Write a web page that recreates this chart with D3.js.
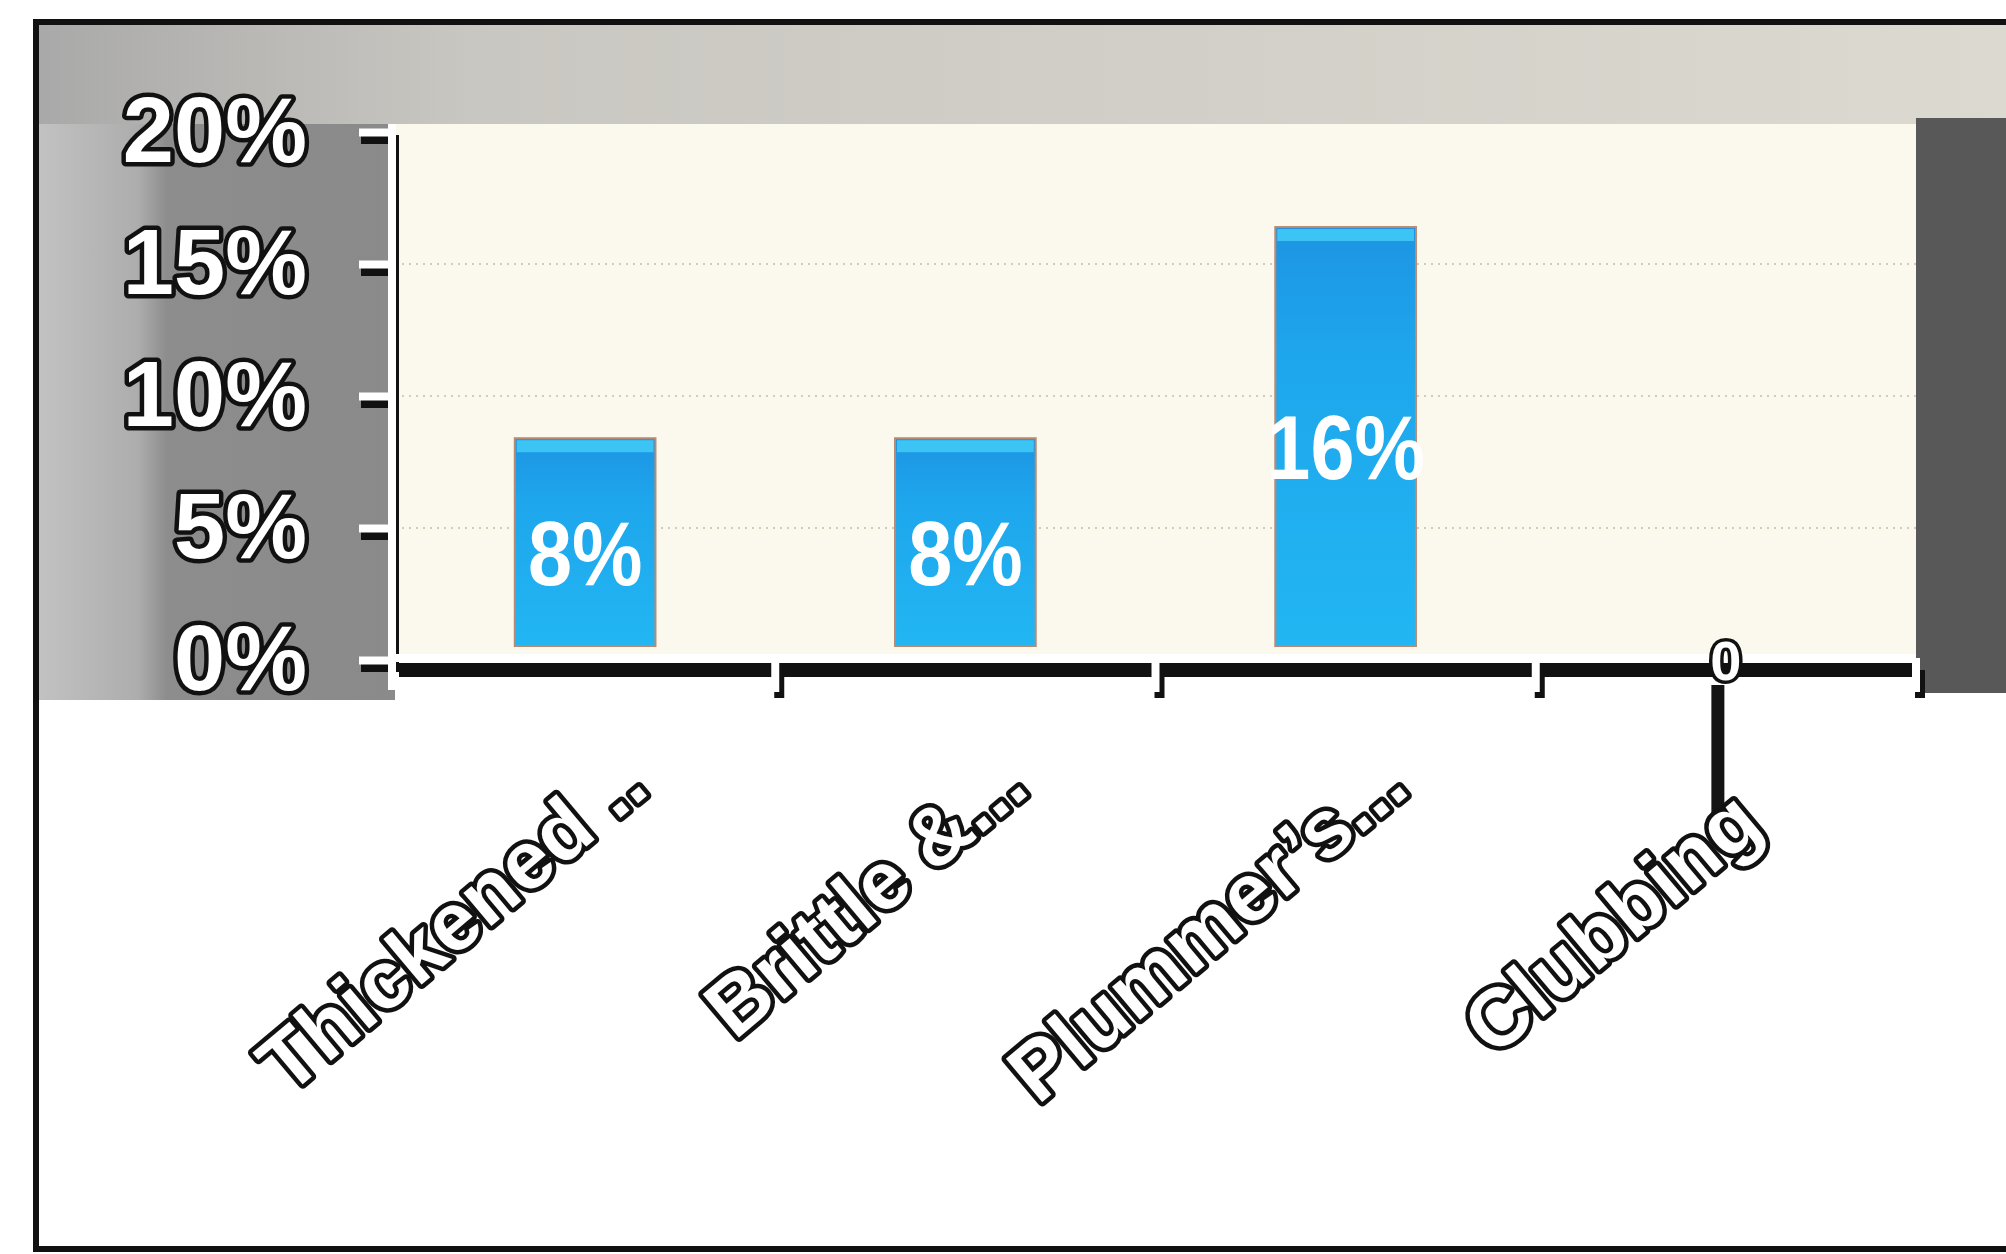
<!DOCTYPE html>
<html lang="en">
<head>
<meta charset="UTF-8">
<title>Nail findings</title>
<style>
  body { margin: 0; background: #fff; }
  svg text { font-family: "Liberation Sans", Arial, sans-serif; font-weight: bold; }
</style>
</head>
<body>
<script src="https://d3js.org/d3.v7.min.js"></script>
<script>
// data
var categories = ["Thickened ..", "Brittle &...", "Plummer\u2019s...", "Clubbing"];
var values = [0.084, 0.084, 0.164, 0];
var yTicks = [0, 0.05, 0.10, 0.15, 0.20];

var W = 2006, H = 1254;
var plot = {left: 395, right: 1916, top: 124, zero: 660, max: 132};

var svg = d3.select("body").append("svg")
  .attr("width", W)
  .attr("height", H);

var x = d3.scaleBand().domain(categories).range([plot.left, plot.right])
  .paddingInner(0.63).paddingOuter(0.315);
var y = d3.scaleLinear().domain([0, 0.2]).range([plot.zero, plot.max]);

var data = categories.map(function(c, i) { return {cat: c, v: values[i]}; });
var fmt = d3.format(".0%");

var defs = svg.append("defs");
var g1 = defs.append("linearGradient").attr("id", "barGrad").attr("x1", 0).attr("y1", 0).attr("x2", 0).attr("y2", 1);
g1.append("stop").attr("offset", "0%").attr("stop-color", "#1d94e3");
g1.append("stop").attr("offset", "30%").attr("stop-color", "#1ea6ec");
g1.append("stop").attr("offset", "100%").attr("stop-color", "#22b6f3");

var g2 = defs.append("linearGradient").attr("id", "topGrad");
g2.append("stop").attr("offset", "0%").attr("stop-color", "#a9a9a9");
g2.append("stop").attr("offset", "22%").attr("stop-color", "#c9c7c1");
g2.append("stop").attr("offset", "100%").attr("stop-color", "#dcd9d0");

var g3 = defs.append("linearGradient").attr("id", "leftGrad");
g3.append("stop").attr("offset", "0%").attr("stop-color", "#c2c2c2");
g3.append("stop").attr("offset", "28%").attr("stop-color", "#adadad");
g3.append("stop").attr("offset", "36%").attr("stop-color", "#8d8d8d");
g3.append("stop").attr("offset", "100%").attr("stop-color", "#8a8a8a");

// backdrop (photo of a slide)
svg.append("rect").attr("width", W).attr("height", H).attr("fill", "#fff");
svg.append("rect").attr("x", 38).attr("y", 24).attr("width", W - 38).attr("height", plot.top - 24)
  .attr("fill", "url(#topGrad)");
svg.append("rect").attr("x", 38).attr("y", plot.top).attr("width", plot.left - 38).attr("height", plot.zero + 40 - plot.top)
  .attr("fill", "url(#leftGrad)");
svg.append("rect").attr("x", plot.right).attr("y", 118).attr("width", W - plot.right).attr("height", 575)
  .attr("fill", "#585858");
svg.append("rect").attr("x", plot.left).attr("y", plot.top).attr("width", plot.right - plot.left).attr("height", plot.zero - plot.top)
  .attr("fill", "#fbf8ee");

// frame
svg.append("path")
  .attr("d", "M" + W + ",22 H36 V1249 H" + W)
  .attr("fill", "none").attr("stroke", "#111").attr("stroke-width", 6);

// faint gridlines
svg.selectAll(".grid")
  .data(yTicks.filter(function(d) { return d > 0 && d < 0.2; }))
  .enter().append("line")
  .attr("x1", plot.left).attr("x2", plot.right)
  .attr("y1", function(d) { return y(d); }).attr("y2", function(d) { return y(d); })
  .attr("stroke", "#d3ccb8").attr("stroke-width", 2).attr("stroke-dasharray", "2,5");

// bars
var lift = 14;
var bars = svg.selectAll(".bar")
  .data(data.filter(function(d) { return d.v > 0; }))
  .enter().append("g").attr("class", "bar");

bars.append("rect")
  .attr("x", function(d) { return x(d.cat); })
  .attr("y", function(d) { return y(d.v); })
  .attr("width", x.bandwidth())
  .attr("height", function(d) { return y(0) - y(d.v) - lift; })
  .attr("fill", "url(#barGrad)")
  .attr("stroke", "#b98a72").attr("stroke-width", 2);

bars.append("rect")
  .attr("x", function(d) { return x(d.cat) + 2; })
  .attr("y", function(d) { return y(d.v) + 2; })
  .attr("width", x.bandwidth() - 4)
  .attr("height", 12)
  .attr("fill", "#3cc4f5");

// data labels
bars.append("text")
  .attr("transform", function(d) {
    var cy = (y(d.v) + y(0) - lift) / 2 + 10;
    return "translate(" + (x(d.cat) + x.bandwidth() / 2) + "," + cy + ") scale(0.88,1)";
  })
  .attr("text-anchor", "middle")
  .attr("dy", "0.36em")
  .attr("font-size", 90)
  .attr("fill", "#fff")
  .text(function(d) { return fmt(d.v); });

// y axis (black shadow first, white on top)
function yAxis() {
  return d3.axisLeft(y).tickValues(yTicks).tickFormat(fmt).tickSize(33).tickPadding(52);
}
var ysh = svg.append("g").attr("transform", "translate(" + (plot.left - 1) + ",7)").call(yAxis());
ysh.selectAll("text").remove();
ysh.selectAll("path, line").attr("stroke", "#111").attr("stroke-width", 9);

// x axis shadow
var bounds = d3.range(0, categories.length + 1).map(function(i) { return x.range()[0] + i * x.step(); });
var xsh = svg.append("g").attr("transform", "translate(4,10)");
xsh.append("line").attr("x1", plot.left).attr("x2", plot.right)
  .attr("y1", y(0)).attr("y2", y(0)).attr("stroke", "#111").attr("stroke-width", 14);
xsh.selectAll(".t").data(bounds.slice(1)).enter().append("line")
  .attr("x1", function(d) { return d; }).attr("x2", function(d) { return d; })
  .attr("y1", y(0)).attr("y2", y(0) + 28)
  .attr("stroke", "#111").attr("stroke-width", 10);

var ya = svg.append("g").attr("transform", "translate(" + (plot.left - 3) + ",0)").call(yAxis());
ya.selectAll("path, line").attr("stroke", "#fff").attr("stroke-width", 8);
ya.select(".domain").attr("d", "M0," + (y(0.2) - 8) + "V" + (y(0) + 30));
ya.selectAll("text")
  .attr("font-size", 92)
  .attr("fill", "#fff")
  .attr("stroke", "#111").attr("stroke-width", 9)
  .attr("stroke-linejoin", "round")
  .style("paint-order", "stroke");

var xw = svg.append("g");
xw.append("line").attr("x1", plot.left).attr("x2", plot.right)
  .attr("y1", y(0) - 2).attr("y2", y(0) - 2).attr("stroke", "#fff").attr("stroke-width", 8);
xw.selectAll(".t").data(bounds.slice(1)).enter().append("line")
  .attr("x1", function(d) { return d; }).attr("x2", function(d) { return d; })
  .attr("y1", y(0) - 2).attr("y2", y(0) + 32)
  .attr("stroke", "#fff").attr("stroke-width", 8);

// zero-height bar: its label sits on the axis, with a dark smear below it
var zero = svg.selectAll(".zero")
  .data(data.filter(function(d) { return d.v === 0; }))
  .enter().append("g").attr("class", "zero");
zero.append("line")
  .attr("x1", function(d) { return x(d.cat) + x.bandwidth() / 2 - 8; })
  .attr("x2", function(d) { return x(d.cat) + x.bandwidth() / 2 - 8; })
  .attr("y1", y(0) + 25).attr("y2", y(0) + 160)
  .attr("stroke", "#141414").attr("stroke-width", 13);
zero.append("text")
  .attr("x", function(d) { return x(d.cat) + x.bandwidth() / 2; })
  .attr("y", y(0))
  .attr("dy", "0.36em")
  .attr("text-anchor", "middle")
  .attr("font-size", 56)
  .attr("fill", "#fff")
  .attr("stroke", "#111").attr("stroke-width", 7)
  .attr("stroke-linejoin", "round")
  .style("paint-order", "stroke")
  .text(function(d) { return d3.format("d")(d.v); });

// category labels, rotated (the last one sits a bit lower in the photo)
var xa = svg.append("g").attr("transform", "translate(0," + y(0) + ")")
  .call(d3.axisBottom(x).tickSize(0).tickPadding(0));
xa.select(".domain").remove();
xa.selectAll("text")
  .attr("x", 0).attr("y", 0).attr("dy", 0)
  .attr("transform", function(d, i) {
    return i === categories.length - 1 ? "translate(40,170) rotate(-40)" : "translate(66,132) rotate(-40)";
  })
  .attr("text-anchor", "end")
  .attr("font-size", 82)
  .attr("fill", "#fff")
  .attr("stroke", "#111").attr("stroke-width", 9)
  .attr("stroke-linejoin", "round")
  .style("paint-order", "stroke");
</script>
</body>
</html>
